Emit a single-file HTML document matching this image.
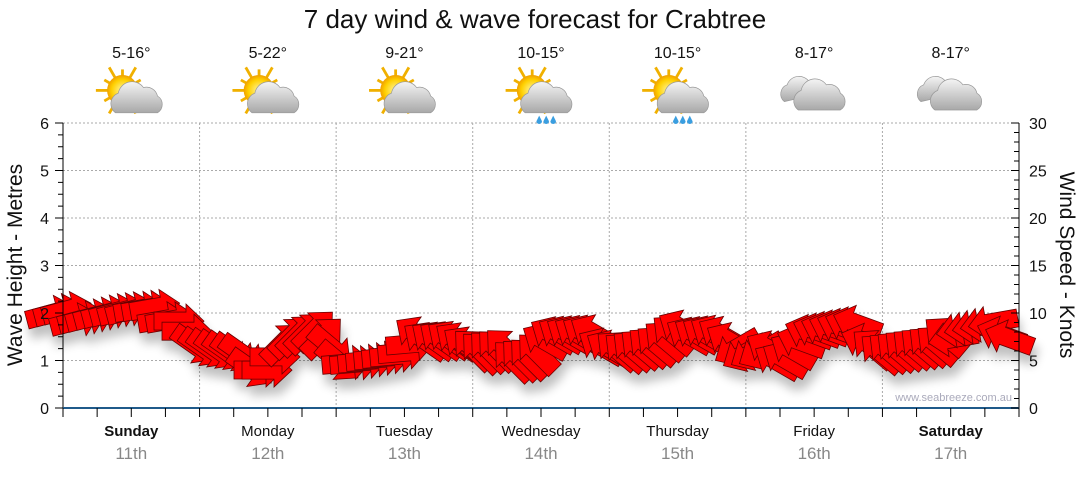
<!DOCTYPE html>
<html><head><meta charset="utf-8"><style>
body{margin:0;background:#fff;width:1080px;height:475px;overflow:hidden;font-family:"Liberation Sans",sans-serif}
</style></head><body>
<svg id="s" width="1080" height="475" xmlns="http://www.w3.org/2000/svg" font-family="Liberation Sans, sans-serif">
<defs>
<filter id="sh" x="-10%" y="-50%" width="120%" height="200%"><feGaussianBlur in="SourceAlpha" stdDeviation="5"/><feOffset dx="3" dy="10"/><feComponentTransfer><feFuncA type="linear" slope="0.25"/></feComponentTransfer><feMerge><feMergeNode/><feMergeNode in="SourceGraphic"/></feMerge></filter>
<radialGradient id="sun" cx="0.5" cy="0.5" r="0.5"><stop offset="0" stop-color="#fff6a0"/><stop offset="0.7" stop-color="#ffd000"/><stop offset="1" stop-color="#f0a000"/></radialGradient>
<linearGradient id="cl" x1="0" y1="0" x2="0" y2="1"><stop offset="0" stop-color="#f4f4f4"/><stop offset="1" stop-color="#a8a8a8"/></linearGradient>
</defs>
<text x="535" y="28" font-size="26" text-anchor="middle" fill="#111">7 day wind &amp; wave forecast for Crabtree</text>
<g id="grid"></g>
<g id="arrows" filter="url(#sh)"></g>
<g id="axes"></g>
<text x="1012" y="401" font-size="11" text-anchor="end" fill="#aab">www.seabreeze.com.au</text>
<text transform="translate(22,265) rotate(-90)" font-size="21" text-anchor="middle" fill="#111">Wave Height - Metres</text>
<text transform="translate(1060,265) rotate(90)" font-size="21" text-anchor="middle" fill="#111">Wind Speed - Knots</text>
</svg>
<script>
var s=document.getElementById('s'),NS='http://www.w3.org/2000/svg';
function el(p,t,a,txt){var e=document.createElementNS(NS,t);for(var k in a)e.setAttribute(k,a[k]);if(txt!=null)e.textContent=txt;p.appendChild(e);return e;}
var g=document.getElementById('grid'),ax=document.getElementById('axes');
var L=63,R=1019,T=123,B=408,DW=(R-L)/7;
for(var i=1;i<=6;i++){var y=B-i*47.5;el(g,'line',{x1:L,x2:R,y1:y,y2:y,stroke:'#aaa','stroke-dasharray':'2,2'});}
for(var i=1;i<7;i++){var x=L+i*DW;el(g,'line',{x1:x,x2:x,y1:T,y2:B,stroke:'#aaa','stroke-dasharray':'2,2'});}
el(ax,'line',{x1:L,x2:L,y1:T,y2:B,stroke:'#000'});
el(ax,'line',{x1:R,x2:R,y1:T,y2:B,stroke:'#000'});
el(ax,'line',{x1:L,x2:R,y1:B,y2:B,stroke:'#1f5a8a','stroke-width':2});
for(var i=0;i<=24;i++){var y=B-i*11.875;el(ax,'line',{x1:L,x2:L-(i%4==0?8:5),y1:y,y2:y,stroke:'#000'});}
for(var i=0;i<=6;i++)el(ax,'text',{x:L-14,y:B-i*47.5+6,'font-size':16,'text-anchor':'end',fill:'#111'},i);
for(var i=0;i<=30;i++){var y=B-i*9.5;el(ax,'line',{x1:R,x2:R-(i%5==0?8:5),y1:y,y2:y,stroke:'#000'});}
for(var i=0;i<=6;i++)el(ax,'text',{x:R+10,y:B-i*47.5+6,'font-size':16,fill:'#111'},i*5);
for(var i=0;i<=28;i++){var x=L+i*DW/4;el(ax,'line',{x1:x,x2:x,y1:B,y2:B+9,stroke:'#000'});}
var days=['Sunday','Monday','Tuesday','Wednesday','Thursday','Friday','Saturday'],dt=['11th','12th','13th','14th','15th','16th','17th'],tp=['5-16°','5-22°','9-21°','10-15°','10-15°','8-17°','8-17°'];
for(var i=0;i<7;i++){var cx=L+DW*(i+0.5);var b=(i==0||i==6);
el(ax,'text',{x:cx,y:436,'font-size':15,'text-anchor':'middle',fill:'#111','font-weight':b?'bold':'normal'},days[i]);
el(ax,'text',{x:cx,y:459,'font-size':17,'text-anchor':'middle',fill:'#888'},dt[i]);
el(ax,'text',{x:cx,y:58,'font-size':16,'text-anchor':'middle',fill:'#111'},tp[i]);
var ic=el(ax,'g',{transform:'translate('+(cx+1)+',96) scale(1.4)'});
if(i<5){for(var r=0;r<12;r++){var a=r*Math.PI/6;el(ic,'line',{x1:-7+Math.cos(a)*10,y1:-4+Math.sin(a)*10,x2:-7+Math.cos(a)*(r%2?15:19),y2:-4+Math.sin(a)*(r%2?15:19),stroke:'#f0b000','stroke-width':2});}
el(ic,'circle',{cx:-7,cy:-4,r:11,fill:'url(#sun)'});
el(ic,'path',{d:'M-12 12 a8 8 0 0 1 2-14 a10 10 0 0 1 18-4 a8 8 0 0 1 10 6 a7 7 0 0 1 0 12 z',fill:'url(#cl)',stroke:'#999','stroke-width':0.5});
if(i>=3){for(var d=0;d<3;d++)el(ic,'path',{d:'M'+(-2+d*5)+' 14 l-2 4 a2 2 0 0 0 4 0 z',fill:'#3a9ee0'});}}
else{el(ic,'path',{d:'M-22 4 a7 7 0 0 1 2-12 a9 9 0 0 1 16-2 a7 7 0 0 1 8 8 z',fill:'url(#cl)',stroke:'#999','stroke-width':0.5});
el(ic,'path',{d:'M-12 10 a8 8 0 0 1 2-14 a10 10 0 0 1 18-4 a8 8 0 0 1 10 6 a7 7 0 0 1 0 12 z',fill:'url(#cl)',stroke:'#999','stroke-width':0.5});}}
var K=[[45,318,-15],[110,312,-15],[165,314,-10],[180,318,0],[195,345,35],[250,362,35],[265,368,0],[285,338,-45],[315,334,-45],[330,352,40],[350,360,-5],[400,358,-5],[425,335,-145],[455,338,-145],[480,355,-135],[535,355,-135],[550,335,-150],[600,340,-150],[625,350,-140],[660,348,-140],[690,330,-150],[720,332,-150],[745,355,150],[785,356,-150],[810,332,-160],[860,330,-160],[880,350,-140],[940,350,-140],[960,325,170],[995,322,170],[1005,342,-160],[1015,340,-160]];
var A=document.getElementById('arrows');
function at(x){for(var i=0;i<K.length-1;i++)if(x<=K[i+1][0]){var t=(x-K[i][0])/(K[i+1][0]-K[i][0]);return [K[i][1]+t*(K[i+1][1]-K[i][1]),t<0.5?K[i][2]:K[i+1][2]];}return [K[K.length-1][1],K[K.length-1][2]];}
for(var x=50;x<=1010;x+=8){var v=at(x);var j=((x*37)%11-5)*1.2;
el(A,'path',{d:'M-24 -9 L8 -9 L8 -17 L26 0 L8 17 L8 9 L-24 9 Z',fill:'#ff0000',stroke:'#600',"stroke-width":0.8,transform:'translate('+x+','+(v[0]+j)+') rotate('+v[1]+')'});}
</script>
</body></html>
